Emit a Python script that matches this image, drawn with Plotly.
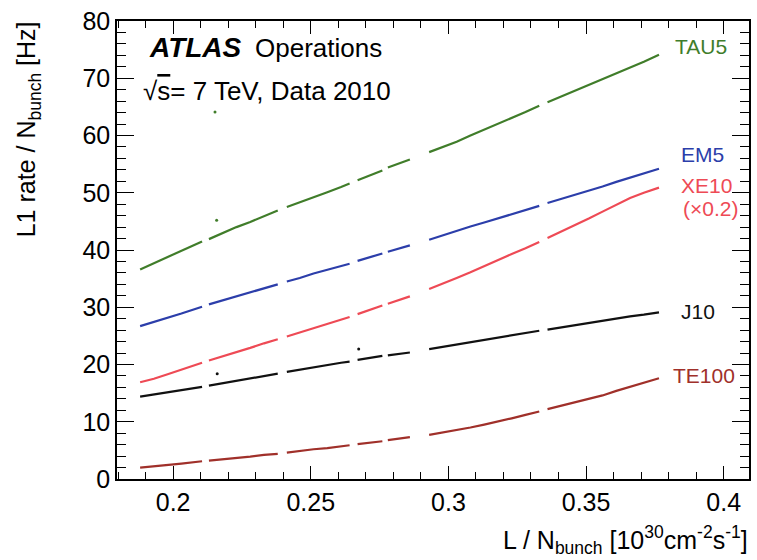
import plotly.graph_objects as go

# luminosity per bunch (shared x grid; None marks gaps between data blocks)
lumi = [0.188, 0.193, 0.198, 0.203, 0.2105, None,
        0.213, 0.218, 0.223, 0.228, 0.233, 0.238, None,
        0.2413, 0.246, 0.251, 0.256, 0.261, 0.2641, None,
        0.267, 0.271, 0.276, None,
        0.278, 0.282, 0.286, None,
        0.293, 0.298, 0.303, 0.308, 0.313, 0.318, 0.323, 0.328, 0.333, None,
        0.336, 0.341, 0.346, 0.351, 0.356, 0.361, 0.366, 0.371, 0.3765]

tau5 = [36.6, 37.7, 38.8, 39.9, 41.5, None,
        41.9, 43.0, 44.0, 44.9, 45.9, 46.9, None,
        47.5, 48.3, 49.2, 50.1, 51.0, 51.6, None,
        52.2, 53.0, 53.9, None,
        54.4, 55.1, 55.8, None,
        57.1, 58.0, 58.9, 60.0, 61.0, 62.1, 63.1, 64.1, 65.2, None,
        65.8, 66.8, 67.9, 68.9, 69.9, 70.9, 71.9, 72.9, 74.1]

em5 = [26.7, 27.4, 28.2, 28.9, 30.1, None,
       30.5, 31.2, 31.9, 32.6, 33.3, 34.0, None,
       34.5, 35.1, 35.9, 36.5, 37.2, 37.6, None,
       38.1, 38.7, 39.4, None,
       39.7, 40.3, 40.8, None,
       41.8, 42.6, 43.3, 44.1, 44.8, 45.5, 46.3, 47.0, 47.7, None,
       48.2, 48.9, 49.7, 50.4, 51.1, 51.9, 52.6, 53.4, 54.2]

xe10 = [16.9, 17.5, 18.3, 19.1, 20.3, None,
        20.7, 21.4, 22.1, 22.9, 23.7, 24.4, None,
        24.9, 25.6, 26.3, 27.1, 27.8, 28.3, None,
        28.8, 29.5, 30.3, None,
        30.6, 31.3, 31.9, None,
        33.2, 34.1, 35.1, 36.1, 37.2, 38.2, 39.3, 40.3, 41.4, None,
        42.1, 43.2, 44.3, 45.5, 46.7, 47.9, 49.1, 50.0, 50.9]

j10 = [14.4, 14.8, 15.2, 15.6, 16.1, None,
       16.3, 16.7, 17.1, 17.5, 17.9, 18.4, None,
       18.7, 19.1, 19.5, 19.9, 20.3, 20.5, None,
       20.8, 21.1, 21.5, None,
       21.6, 21.8, 22.1, None,
       22.7, 23.1, 23.5, 23.9, 24.3, 24.7, 25.1, 25.5, 25.9, None,
       26.1, 26.5, 26.9, 27.2, 27.6, 28.0, 28.4, 28.7, 29.1]

te100 = [2.0, 2.2, 2.5, 2.7, 3.1, None,
         3.2, 3.4, 3.7, 3.9, 4.2, 4.4, None,
         4.6, 4.9, 5.2, 5.4, 5.7, 5.9, None,
         6.1, 6.3, 6.6, None,
         6.8, 7.0, 7.3, None,
         7.7, 8.1, 8.5, 9.0, 9.5, 10.0, 10.6, 11.2, 11.8, None,
         12.2, 12.8, 13.3, 13.9, 14.6, 15.4, 16.1, 16.8, 17.6]

# isolated outlier points
out_x = [0.2152, 0.2158, 0.2160, 0.2674]
out_y = [64.1, 45.2, 18.4, 22.7]
out_series = ["TAU5", "TAU5", "J10", "J10"]

series_names = ["TAU5", "EM5", "XE10", "J10", "TE100"]
series_vals = [tau5, em5, xe10, j10, te100]
colors = {"TAU5": "#407d2a", "EM5": "#2c3eaa", "XE10": "#ee4a55",
          "J10": "#111111", "TE100": "#a0302a"}

# label positions (near the line ends)
lab_text = ["TAU5", "EM5", "XE10", "(\u00d70.2)", "J10", "TE100"]
lab_color = ["TAU5", "EM5", "XE10", "XE10", "J10", "TE100"]
lab_x = [0.3816, 0.3838, 0.3838, 0.3845, 0.3838, 0.3809]
lab_y = [75.5, 56.6, 51.2, 47.3, 29.3, 18.0]

FONT = "Liberation Sans, Arial, Helvetica, sans-serif"

fig = go.Figure()
for name, vals in zip(series_names, series_vals):
    fig.add_trace(go.Scatter(x=lumi, y=vals, mode="lines", name=name,
                             line=dict(color=colors[name], width=2.2),
                             connectgaps=False, showlegend=False))
fig.add_trace(go.Scatter(x=out_x, y=out_y, mode="markers", showlegend=False,
                         marker=dict(size=3, color=[colors[s] for s in out_series])))

for t, c, x, y in zip(lab_text, lab_color, lab_x, lab_y):
    fig.add_annotation(x=x, y=y, text=t, showarrow=False, xanchor="left",
                       yanchor="middle", font=dict(size=21, color=colors[c], family=FONT))

fig.add_annotation(xref="paper", yref="paper", x=(147 - 117) / 634, y=(479 - 48) / 458,
                   text="<b><i>ATLAS</i></b>", showarrow=False, xanchor="left",
                   yanchor="middle", font=dict(size=28, color="black", family=FONT))
fig.add_annotation(xref="paper", yref="paper", x=(253 - 117) / 634, y=(479 - 48) / 458,
                   text="Operations", showarrow=False, xanchor="left",
                   yanchor="middle", font=dict(size=26, color="black", family=FONT))
fig.add_annotation(xref="paper", yref="paper", x=(141 - 117) / 634, y=(479 - 91) / 458,
                   text="\u221a<span style='text-decoration:overline'>s</span>= 7 TeV, Data 2010",
                   showarrow=False, xanchor="left",
                   yanchor="middle", font=dict(size=26, color="black", family=FONT))

# axis titles
fig.add_annotation(xref="paper", yref="paper", x=(28 - 117) / 634, y=(479 - 19) / 458,
                   text="L1 rate / N<sub>bunch</sub> [Hz]", textangle=-90,
                   showarrow=False, xanchor="center", yanchor="top",
                   font=dict(size=25, color="black", family=FONT))
fig.add_annotation(xref="paper", yref="paper", x=1.002, y=(479 - 560) / 458,
                   text="L / N<sub>bunch</sub> [10<sup>30</sup>cm<sup>-2</sup>s<sup>-1</sup>]",
                   showarrow=False, xanchor="right", yanchor="bottom",
                   font=dict(size=25, color="black", family=FONT))

fig.update_xaxes(range=[0.1796, 0.4092], tickvals=[0.2, 0.25, 0.3, 0.35, 0.4],
                 ticktext=["0.2", "0.25", "0.3", "0.35", "0.4"],
                 ticks="inside", ticklen=13, tickwidth=1.3, tickcolor="black",
                 minor=dict(ticks="inside", ticklen=7, dtick=0.01, tick0=0.0,
                            tickcolor="black", tickwidth=1.3, showgrid=False),
                 showline=True, linecolor="black", linewidth=1.5, mirror="ticks",
                 showgrid=False, zeroline=False,
                 tickfont=dict(size=25, color="black", family=FONT))
fig.update_yaxes(range=[0, 80], dtick=10, tick0=0,
                 ticks="inside", ticklen=17, tickwidth=1.3, tickcolor="black",
                 minor=dict(ticks="inside", ticklen=9, dtick=2, tick0=0,
                            tickcolor="black", tickwidth=1.3, showgrid=False),
                 showline=True, linecolor="black", linewidth=1.5, mirror="ticks",
                 showgrid=False, zeroline=False,
                 tickfont=dict(size=25, color="black", family=FONT))

fig.update_layout(width=757, height=560, margin=dict(l=117, r=6, t=21, b=81),
                  plot_bgcolor="white", paper_bgcolor="white",
                  font=dict(family=FONT, color="black"))

fig.write_html("out.html")
